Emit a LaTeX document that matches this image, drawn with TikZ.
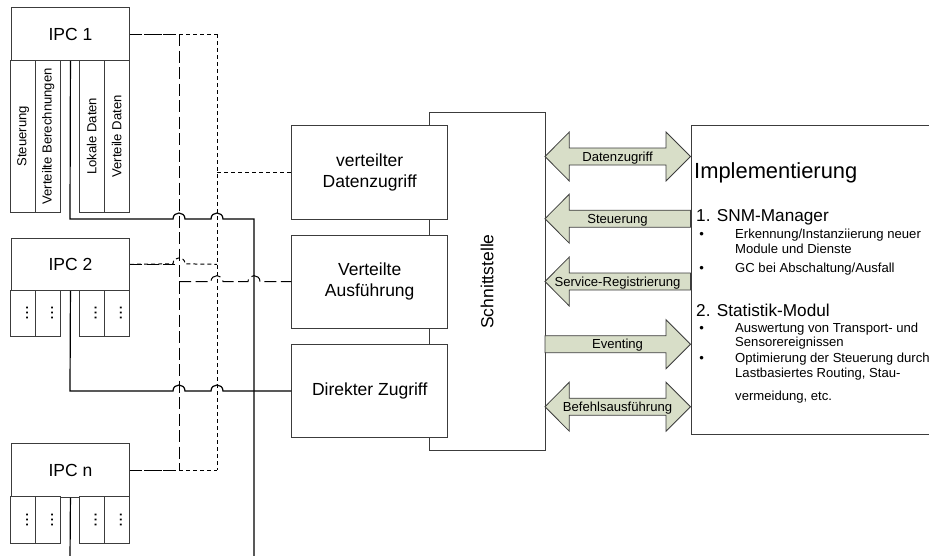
\documentclass[tikz,border=0pt]{standalone}
\usepackage{fontspec}
\setmainfont{Liberation Sans}
\definecolor{arrfill}{RGB}{216,222,200}
\definecolor{boxline}{RGB}{60,60,60}
\begin{document}
\begin{tikzpicture}[x=1pt,y=-1pt,
  box/.style={draw=boxline, line width=0.9pt, fill=white, inner sep=0pt, align=center},
  bigtxt/.style={font=\fontsize{17.5}{20.5}\selectfont},
  smalltxt/.style={font=\fontsize{13.1}{15}\selectfont},
  wire/.style={line width=1.2pt, draw=black},
  longd/.style={line width=1.0pt, draw=black, dash pattern=on 12pt off 4.5pt},
  shortd/.style={line width=1.0pt, draw=black, dash pattern=on 4pt off 3pt},
  arr/.style={draw=boxline, line width=0.8pt, fill=arrfill, line join=miter},
  lbl/.style={font=\fontsize{13.1}{15}\selectfont, anchor=base, inner sep=0pt},
  txt/.style={anchor=base west, inner sep=0pt},
  dots/.style={rotate=90, inner sep=0pt, font=\fontsize{18}{18}\selectfont},
]
\clip (0,0) rectangle (929,555);
\fill[white] (0,0) rectangle (929,555);

% bus coordinates
\coordinate (busL) at (179,0);
\coordinate (busS) at (217,0);
\coordinate (busW) at (254,0);

% IPC boxes
\node[box, bigtxt, minimum width=118.6pt, minimum height=52.7pt, anchor=north west] (ipc1) at (10.7,7.3) {IPC 1};
\node[box, bigtxt, minimum width=118.6pt, minimum height=52.3pt, anchor=north west] (ipc2) at (10.7,237.7) {IPC 2};
\node[box, bigtxt, minimum width=118.6pt, minimum height=53.4pt, anchor=north west] (ipcn) at (10.7,443.3) {IPC n};

% IPC 1 sub-boxes
\node[box, smalltxt, rotate=90, minimum width=152.7pt, minimum height=25pt] (s11) at (23.2,136.35) {Steuerung};
\node[box, smalltxt, rotate=90, minimum width=152.7pt, minimum height=25pt] (s12) at (48.2,136.35) {Verteilte Berechnungen};
\node[box, smalltxt, rotate=90, minimum width=152.7pt, minimum height=25.3pt] (s13) at (91.65,136.35) {Lokale Daten};
\node[box, smalltxt, rotate=90, minimum width=152.7pt, minimum height=25pt] (s14) at (116.8,136.35) {Verteile Daten};

% IPC 2 sub-boxes
\node[box, minimum width=25pt, minimum height=46.7pt] (s21) at (23.2,313.35) {};
\node[box, minimum width=25pt, minimum height=46.7pt] (s22) at (48.2,313.35) {};
\node[box, minimum width=25.3pt, minimum height=46.7pt] (s23) at (91.65,313.35) {};
\node[box, minimum width=25pt, minimum height=46.7pt] (s24) at (116.8,313.35) {};
% IPC n sub-boxes
\node[box, minimum width=25pt, minimum height=46.6pt] (sn1) at (23.2,520) {};
\node[box, minimum width=25pt, minimum height=46.6pt] (sn2) at (48.2,520) {};
\node[box, minimum width=25.3pt, minimum height=46.6pt] (sn3) at (91.65,520) {};
\node[box, minimum width=25pt, minimum height=46.6pt] (sn4) at (116.8,520) {};

\foreach \n/\cx in {1/27.2,2/52.2,3/95.7,4/120.8}{
  \node[dots] (d2\n) at (\cx,313.35) {...};
  \node[dots] (dn\n) at (\cx,520) {...};
}

% Schnittstelle and middle boxes
\node[box, bigtxt, rotate=90, minimum width=338.4pt, minimum height=116pt] (schn) at (487,281.5) {Schnittstelle};
\node[box, bigtxt, minimum width=156pt, minimum height=93.3pt] (vd) at (369.7,172.35) {verteilter\\Datenzugriff};
\node[box, bigtxt, minimum width=156pt, minimum height=93.3pt] (va) at (369.7,281.65) {Verteilte\\Ausführung};
\node[box, bigtxt, minimum width=156pt, minimum height=93.3pt] (dz) at (369.7,391) {Direkter Zugriff};

% solid wires
\draw[wire] (ipc1.south) -- (70,219) -- (173,219) .. controls (173,211) and (185,211) .. (185,219)
  -- (211,219) .. controls (211,211) and (223,211) .. (223,219) -- (254,219) -- (254,560);
\draw[wire] (ipc2.south) -- (70,391) -- (173,391) .. controls (173,383) and (185,383) .. (185,391)
  -- (211,391) .. controls (211,383) and (223,383) .. (223,391) -- (dz.west);
\draw[wire] (ipcn.south) -- (70,560);

% long-dash bus
\draw[longd] (ipc1.east -| busL) -- (ipcn.east -| busL);
\draw[longd] (ipc1.east) -- (ipc1.east -| busL);
\draw[longd] (ipc2.east) -- (ipc2.east -| busL);
\draw[longd] (ipcn.east) -- (ipcn.east -| busL);
\draw[longd] (va.west -| busL) -- (211,281.65) .. controls (211,273.65) and (223,273.65) .. (223,281.65)
  -- (248,281.65) .. controls (248,273.65) and (260,273.65) .. (260,281.65) -- (va.west);

% short-dash bus
\draw[shortd] (ipc1.east -| busS) -- (ipcn.east -| busS);
\draw[shortd] (ipc1.east) -- (ipc1.east -| busS);
\draw[shortd] (ipc2.east) -- (173,263.85) .. controls (173,255.85) and (185,255.85) .. (185,263.85) -- (ipc2.east -| busS);
\draw[shortd] (ipcn.east) -- (ipcn.east -| busS);
\draw[shortd] (vd.west -| busS) -- (vd.west);

% Implementierung box
\node[box, minimum width=250pt, minimum height=309pt, anchor=north west] (impl) at (691,125) {};

% arrows
\draw[arr] (545,156.5) -- (569.3,132) -- (569.3,148) -- (666,148) -- (666,132) -- (690.5,156.5)
  -- (666,181) -- (666,165) -- (569.3,165) -- (569.3,181) -- cycle;
\node[lbl] (lDat) at (617.5,161.2) {Datenzugriff};
\draw[arr] (545,218.7) -- (569.3,194.2) -- (569.3,210.2) -- (690.5,210.2) -- (690.5,227.2)
  -- (569.3,227.2) -- (569.3,243.2) -- cycle;
\node[lbl] (lSteu) at (617.5,223.4) {Steuerung};
\draw[arr] (545,281.5) -- (569.3,257) -- (569.3,273) -- (690.5,273) -- (690.5,290)
  -- (569.3,290) -- (569.3,306) -- cycle;
\node[lbl] (lServ) at (617.5,286.2) {Service-Registrierung};
\draw[arr] (545,335.7) -- (666,335.7) -- (666,319.7) -- (690.5,344.2) -- (666,368.7)
  -- (666,352.7) -- (545,352.7) -- cycle;
\node[lbl] (lEvt) at (617.5,348.9) {Eventing};
\draw[arr] (545,406.7) -- (569.3,382.2) -- (569.3,398.2) -- (666,398.2) -- (666,382.2) -- (690.5,406.7)
  -- (666,431.2) -- (666,415.2) -- (569.3,415.2) -- (569.3,431.2) -- cycle;
\node[lbl] (lBef) at (617.5,411.4) {Befehlsausführung};

% Implementierung text
\node[txt, font=\fontsize{21.9}{24}\selectfont] (t0) at (694,178.3) {Implementierung};
\node[txt, font=\fontsize{17.2}{20}\selectfont] (t1) at (696,221.7) {1. SNM-Manager};
\node[txt, smalltxt] (t11) at (735,238.3) {Erkennung/Instanziierung neuer};
\node[txt, smalltxt] (t12) at (735,253.3) {Module und Dienste};
\node[txt, smalltxt] (t13) at (735,272.7) {GC bei Abschaltung/Ausfall};
\node[txt, font=\fontsize{17.2}{20}\selectfont] (t2) at (696,316.7) {2. Statistik-Modul};
\node[txt, smalltxt] (t21) at (735,332) {Auswertung von Transport- und};
\node[txt, smalltxt] (t22) at (735,346.7) {Sensorereignissen};
\node[txt, smalltxt] (t23) at (735,362.7) {Optimierung der Steuerung durch};
\node[txt, smalltxt] (t24) at (735,377.3) {Lastbasiertes Routing, Stau-};
\node[txt, smalltxt] (t25) at (735,400) {vermeidung, etc.};
\foreach \n/\by in {a/238.3,b/272.7,c/332,d/362.7}{
  \node[smalltxt, anchor=base, inner sep=0pt] (b\n) at (701.7,\by) {•};
}
\end{tikzpicture}
\end{document}
